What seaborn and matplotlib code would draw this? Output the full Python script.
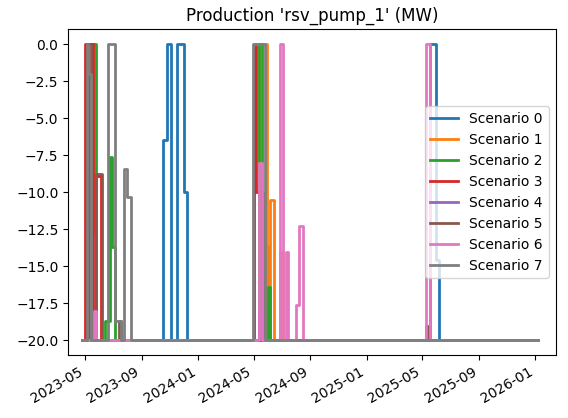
import matplotlib
matplotlib.use("Agg")
import matplotlib.pyplot as plt
import matplotlib.dates as mdates
import seaborn as sns
import pandas as pd

names = [f"Scenario {i}" for i in range(8)]
colors = ["#1f77b4","#ff7f0e","#2ca02c","#d62728","#9467bd","#8c564b","#e377c2","#7f7f7f"]

# change points (date, value); value holds until next change; base value -20
s0 = [("2023-10-18",-6.5),("2023-10-26",0),("2023-11-04",-20),("2023-11-17",0),("2023-12-01",-10),("2023-12-09",-20),
      ("2024-05-26",-13.6),("2024-06-02",-20),("2025-05-17",0),("2025-05-30",-14.6),("2025-06-07",-20)]
s1 = [("2023-05-06",0),("2023-05-20",-12.7),("2023-05-25",-20),("2024-05-13",0),("2024-05-30",-20),
      ("2024-06-06",-10.5),("2024-06-13",-20),("2024-06-28",-14),("2024-07-04",-20)]
s2 = [("2023-05-09",0),("2023-05-25",-20),("2023-06-13",-18.7),("2023-06-24",-7.6),("2023-06-28",-13.7),("2023-07-05",-20),
      ("2024-05-13",0),("2024-05-20",-20),("2024-06-02",-16.4),("2024-06-06",-20)]
s3 = [("2023-05-01",0),("2023-05-18",-20),("2023-05-25",-8.9),("2023-06-05",-20),
      ("2024-05-01",0),("2024-05-06",-10),("2024-05-18",-20)]
s4 = [("2024-05-13",-18),("2024-05-16",-20)]
s5 = [("2023-05-09",0),("2023-05-15",-20),("2023-05-26",-8.8),("2023-06-08",-20),("2023-07-14",-18.7),("2023-07-18",-20),
      ("2024-05-18",-10),("2024-05-22",-20),("2025-05-10",-19),("2025-05-14",-20)]
s6 = [("2023-05-20",-18),("2023-05-26",-20),("2024-05-13",-8),("2024-05-20",-20),("2024-06-28",0),("2024-07-04",-20),
      ("2024-07-09",-14),("2024-07-15",-20),("2024-07-31",-17.6),("2024-08-08",-12.3),("2024-08-15",-20),
      ("2025-05-10",0),("2025-05-17",-20)]
s7 = [("2023-05-06",0),("2023-05-09",-2),("2023-05-15",-20),("2023-06-20",0),("2023-07-05",-18.7),("2023-07-18",-20),
      ("2023-07-25",-8.4),("2023-07-31",-10.3),("2023-08-09",-20),("2024-04-30",0),("2024-05-26",-20)]
changes = [s0,s1,s2,s3,s4,s5,s6,s7]
start, end, base = "2023-04-25", "2026-01-06", -20.0

plt.rcParams['font.family'] = ['DejaVu Sans']
fig, ax = plt.subplots(figsize=(5.68,4.18), dpi=100)
for nm, col, ch in zip(names, colors, changes):
    d = [pd.Timestamp(start)] + [pd.Timestamp(a) for a,_ in ch] + [pd.Timestamp(end)]
    v = [base] + [b for _,b in ch] + [base]
    df = pd.DataFrame({"date": d, "val": v})
    sns.lineplot(data=df, x="date", y="val", ax=ax, color=col, lw=2, drawstyle="steps-post", label=nm)
ax.set_title("Production 'rsv_pump_1' (MW)")
ax.set_xlabel(""); ax.set_ylabel("")
ax.set_xlim(pd.Timestamp("2023-03-26"), pd.Timestamp("2026-02-14"))
ax.xaxis.set_major_locator(mdates.MonthLocator(bymonth=[1,5,9]))
ax.xaxis.set_major_formatter(mdates.DateFormatter("%Y-%m"))
fig.autofmt_xdate()
ax.legend(loc="center right")
fig.subplots_adjust(left=0.12, right=0.978, top=0.93, bottom=0.15)
fig.savefig("out.png")
